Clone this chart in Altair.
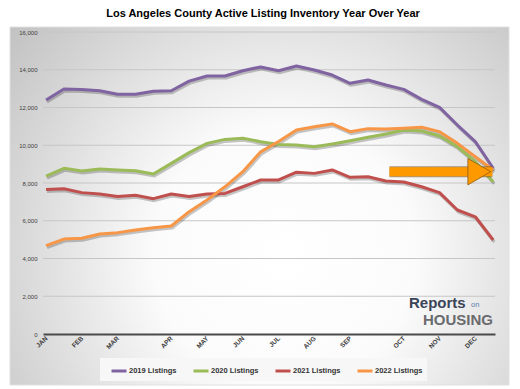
import altair as alt
import pandas as pd

# ---- data ----
months = ["JAN", "FEB", "MAR", "APR", "MAY", "JUN", "JUL", "AUG", "SEP", "OCT", "NOV", "DEC"]
month_start_index = [0, 2, 4, 7, 9, 11, 13, 15, 17, 20, 22, 24]
series_names = ["2019 Listings", "2020 Listings", "2021 Listings", "2022 Listings"]
series_colors = ["#8064a2", "#9bbb59", "#c0504d", "#f79646"]

listings_2019 = [12400, 12980, 12960, 12890, 12700, 12700, 12860, 12890, 13400, 13670, 13670, 13950, 14150,
                 13950, 14200, 13990, 13720, 13280, 13460, 13190, 12960, 12430, 12010, 11070, 10190, 8780]
listings_2020 = [8370, 8780, 8640, 8740, 8690, 8650, 8480, 9040, 9610, 10100, 10310, 10370, 10190,
                 10040, 10010, 9920, 10070, 10240, 10420, 10600, 10810, 10750, 10490, 9920, 9130, 8070]
listings_2021 = [7660, 7700, 7490, 7420, 7280, 7350, 7170, 7420, 7280, 7420, 7450, 7800, 8160,
                 8160, 8570, 8510, 8690, 8300, 8330, 8110, 8050, 7800, 7490, 6570, 6210, 4980]
listings_2022 = [4680, 5030, 5070, 5300, 5370, 5510, 5630, 5720, 6480, 7100, 7800, 8600, 9650,
                 10200, 10810, 10980, 11130, 10720, 10880, 10860, 10900, 10950, 10720, 10100, 9390, 8690]

y_ticks = [0, 2000, 4000, 6000, 8000, 10000, 12000, 14000, 16000]
grid_values = [2000, 4000, 6000, 8000, 10000, 12000, 14000, 16000]

arrow_start = 19.2
arrow_end = 24.95
arrow_level = 8600

title_text = "Los Angeles County Active Listing Inventory Year Over Year"

# ---- tables ----
all_series = [listings_2019, listings_2020, listings_2021, listings_2022]
rows = []
for name, vals in zip(series_names, all_series):
    for i, v in enumerate(vals):
        rows.append({"idx": i, "value": v, "series": name})
df = pd.DataFrame(rows)
grid_df = pd.DataFrame({"g": grid_values})
arrow_df = pd.DataFrame({"x0": [arrow_start], "x1": [arrow_end], "y": [arrow_level]})
one = pd.DataFrame({"a": [0]})

label_expr = "[" + ",".join(f"'{m}'" for m in months) + "][indexof([" + ",".join(
    str(i) for i in month_start_index) + "], datum.value)]"

FONT = "Arial, Liberation Sans, sans-serif"

xscale = alt.Scale(domain=[-0.17, 25.1], nice=False, zero=False)
yscale = alt.Scale(domain=[0, 16000], nice=False)

x_axis = alt.Axis(
    values=month_start_index, labelExpr=label_expr, title=None, grid=False,
    ticks=False, domain=True, domainColor="#4a4a4a", domainWidth=2,
    labelAngle=315, labelAlign="right", labelBaseline="middle",
    labelFontSize=6.5, labelFontWeight="bold", labelColor="#404040", labelPadding=3,
    labelFont=FONT, labelOverlap=False, zindex=1)
y_axis = alt.Axis(
    values=y_ticks, format=",.0f", title=None, grid=False, ticks=False, domain=False,
    labelFontSize=6, labelColor="#404040", labelPadding=6, labelFont=FONT,
    labelOverlap=False, zindex=1)

# background gradient box
bg = alt.Chart(one).mark_rect(
    fill=alt.RadialGradient(
        gradient="radial",
        x1=0.55, y1=0.6, r1=0.0, x2=0.55, y2=0.6, r2=0.75,
        stops=[alt.GradientStop(offset=0, color="#ffffff"),
               alt.GradientStop(offset=0.35, color="#fbfbfb"),
               alt.GradientStop(offset=1, color="#bdbdbd")],
    ),
    stroke="#e0e0e0", strokeWidth=1,
).encode(x=alt.value(-33), x2=alt.value(466), y=alt.value(-5), y2=alt.value(353))

grid = alt.Chart(grid_df).mark_rule(color="#c6c6c6", strokeWidth=1).encode(
    y=alt.Y("g:Q", scale=yscale, axis=y_axis),
    x=alt.value(0), x2=alt.value(452),
)

shadow = alt.Chart(df).mark_line(strokeWidth=3, color="#000000", opacity=0.22,
                                 xOffset=1, yOffset=2, strokeJoin="round").encode(
    x=alt.X("idx:Q", scale=xscale, axis=x_axis),
    y=alt.Y("value:Q", scale=yscale, axis=y_axis),
    detail="series:N",
)

lines = alt.Chart(df).mark_line(strokeWidth=3, strokeJoin="round").encode(
    x=alt.X("idx:Q", scale=xscale, axis=x_axis),
    y=alt.Y("value:Q", scale=yscale, axis=y_axis),
    color=alt.Color("series:N", scale=alt.Scale(domain=series_names, range=series_colors),
                    legend=alt.Legend(
                        title=None, orient="none", legendX=57, legendY=326,
                        direction="horizontal", columns=4, symbolType="stroke",
                        symbolSize=225, symbolStrokeWidth=3, labelFontSize=7.5,
                        labelFontWeight="bold", labelColor="#333333", labelFont=FONT,
                        labelOffset=1, columnPadding=9, padding=4,
                        fillColor="#f7f7f7", symbolOffset=6)),
    order="idx:Q",
)

arrow_shadow = alt.Chart(arrow_df).mark_rule(strokeWidth=11, color="#6b4a10", opacity=0.55,
                                             strokeCap="butt").encode(
    x=alt.X("x0:Q", scale=xscale, axis=x_axis), x2=alt.X2("x1:Q"),
    y=alt.Y("y:Q", scale=yscale, axis=y_axis),
)
arrow_body = alt.Chart(arrow_df).mark_rule(strokeWidth=9, color="#ff9900",
                                           strokeCap="butt").encode(
    x=alt.X("x0:Q", scale=xscale, axis=x_axis), x2=alt.X2("x1:Q"),
    y=alt.Y("y:Q", scale=yscale, axis=y_axis),
)
arrow_head = alt.Chart(arrow_df).mark_point(shape="triangle-right", size=700, filled=True,
                                            fill="#ff9900", stroke="#8a5a10", strokeWidth=0.8,
                                            opacity=1, xOffset=-13).encode(
    x=alt.X("x1:Q", scale=xscale, axis=x_axis),
    y=alt.Y("y:Q", scale=yscale, axis=y_axis),
)

logo_reports = alt.Chart(one).mark_text(text="Reports", font=FONT, fontSize=15, fontWeight="bold",
                                        color="#3a4557", align="left", baseline="alphabetic").encode(
    x=alt.value(366), y=alt.value(276))
logo_on = alt.Chart(one).mark_text(text="on", font=FONT, fontSize=7.5,
                                   color="#5a7aa8", align="left", baseline="alphabetic").encode(
    x=alt.value(428), y=alt.value(275))
logo_housing = alt.Chart(one).mark_text(text="HOUSING", font=FONT, fontSize=15, fontWeight="bold",
                                        color="#6a6b6e", align="left", baseline="alphabetic").encode(
    x=alt.value(380), y=alt.value(293))

chart = alt.layer(
    bg, grid, shadow, lines, arrow_shadow, arrow_body, arrow_head,
    logo_reports, logo_on, logo_housing,
).properties(
    width=452, height=302,
    title=alt.TitleParams(title_text, font=FONT, fontSize=11, fontWeight="bold",
                          color="#000000", anchor="middle", dx=-6, offset=8),
    autosize=alt.AutoSizeParams(type="none"),
    padding={"left": 35, "top": 24, "right": 17, "bottom": 52},
).configure_view(stroke=None).configure(background="#ffffff")

chart.save("out.html", embed_options={"renderer": "svg", "actions": False})
